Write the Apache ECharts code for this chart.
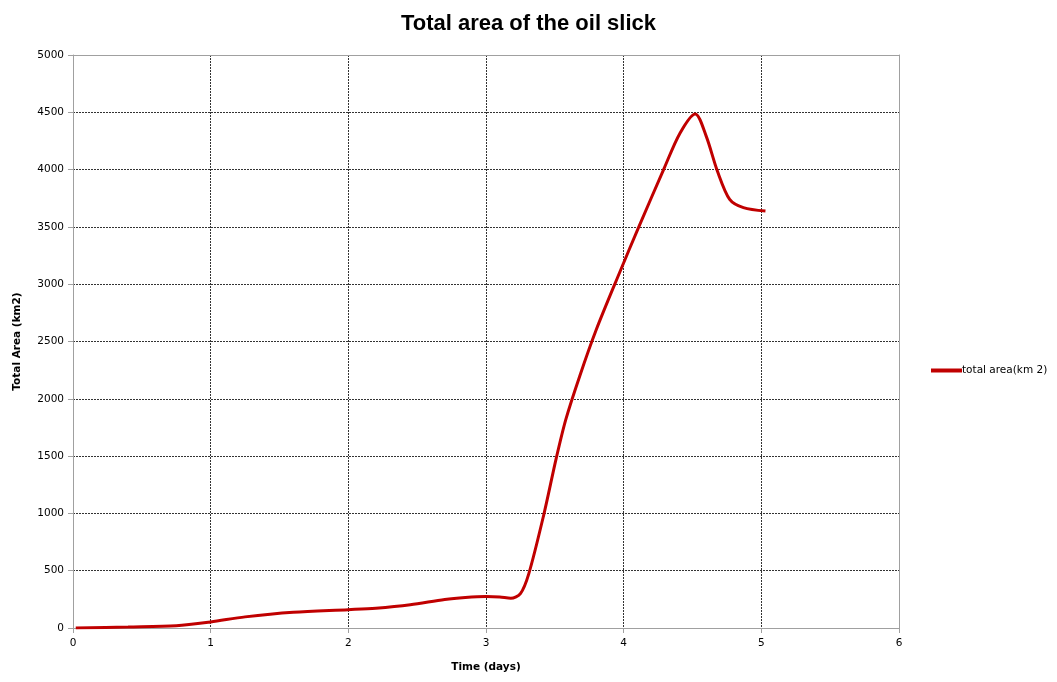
<!DOCTYPE html>
<html><head><meta charset="utf-8">
<script src="https://cdn.jsdelivr.net/npm/echarts@6/dist/echarts.min.js"></script>
<style>html,body{margin:0;padding:0;background:#fff}#c{width:1057px;height:682px}</style>
</head><body><div id="c"></div>
<script>
var timeDays = [0.02,0.4,0.75,1.0,1.25,1.6,2.0,2.2,2.45,2.7,2.85,3.0,3.1,3.18,3.25,3.31,3.42,3.51,3.58,3.68,3.8,3.97,4.11,4.29,4.41,4.52,4.6,4.68,4.77,4.87,5.03];
var totalArea = [0,9,20,53,97,137,160,173,203,249,266,274,270,260,300,470,990,1480,1820,2195,2600,3100,3500,4000,4320,4486,4290,3990,3740,3668,3638];
var seriesName = 'total area(km 2)';
var titleText = 'Total area of the oil slick';
var xName = 'Time (days)';
var yName = 'Total Area (km2)';

var pts = timeDays.map(function(t,i){return [t,totalArea[i]];});
var chart = echarts.init(document.getElementById('c'));
var gridLine = {show:true,showMinLine:false,showMaxLine:false,lineStyle:{color:'#333',type:[2,1],width:1}};
var labelStyle = {fontFamily:'DejaVu Sans',fontSize:10.5,color:'#000'};
var nameStyle = {fontFamily:'DejaVu Sans',fontWeight:'bold',fontSize:10.5,color:'#000'};
var borderAxis = {show:true,onZero:false,lineStyle:{color:'#a0a0a0',width:1}};
chart.setOption({
  animation:false,
  title:{text:titleText,left:'center',top:8,textStyle:{fontFamily:'Liberation Sans',fontWeight:'bold',fontSize:22,color:'#000'}},
  legend:{data:[seriesName],orient:'vertical',left:926,top:360,itemWidth:31,itemHeight:4,itemGap:0,icon:'rect',
    textStyle:{fontFamily:'DejaVu Sans',fontSize:10.5,color:'#000',padding:[0,0,0,-5]}},
  grid:{left:73,right:158,top:55,bottom:54},
  xAxis:[{type:'value',min:0,max:6,interval:1,name:xName,nameLocation:'middle',nameGap:34,
    nameTextStyle:nameStyle,
    axisLine:borderAxis,
    axisTick:{show:true,length:5,lineStyle:{color:'#a0a0a0'}},
    axisLabel:Object.assign({margin:10,formatter:function(v){return String(v);}},labelStyle),
    splitLine:gridLine},
    {type:'value',min:0,max:6,interval:1,position:'top',z:10,axisLine:borderAxis,axisTick:{show:false},axisLabel:{show:false},splitLine:{show:false}}],
  yAxis:[{type:'value',min:0,max:5000,interval:500,name:yName,nameLocation:'middle',nameGap:50,nameRotate:90,
    nameTextStyle:nameStyle,
    axisLine:borderAxis,
    axisTick:{show:true,length:5,lineStyle:{color:'#a0a0a0'}},
    axisLabel:Object.assign({margin:9,formatter:function(v){return String(v);}},labelStyle),
    splitLine:gridLine},
    {type:'value',min:0,max:5000,interval:500,position:'right',z:10,axisLine:borderAxis,axisTick:{show:false},axisLabel:{show:false},splitLine:{show:false}}],
  series:[{name:seriesName,type:'line',data:pts,smooth:0.3,showSymbol:false,
    lineStyle:{color:'#c00000',width:3},itemStyle:{color:'#c00000'}}]
});
</script></body></html>
